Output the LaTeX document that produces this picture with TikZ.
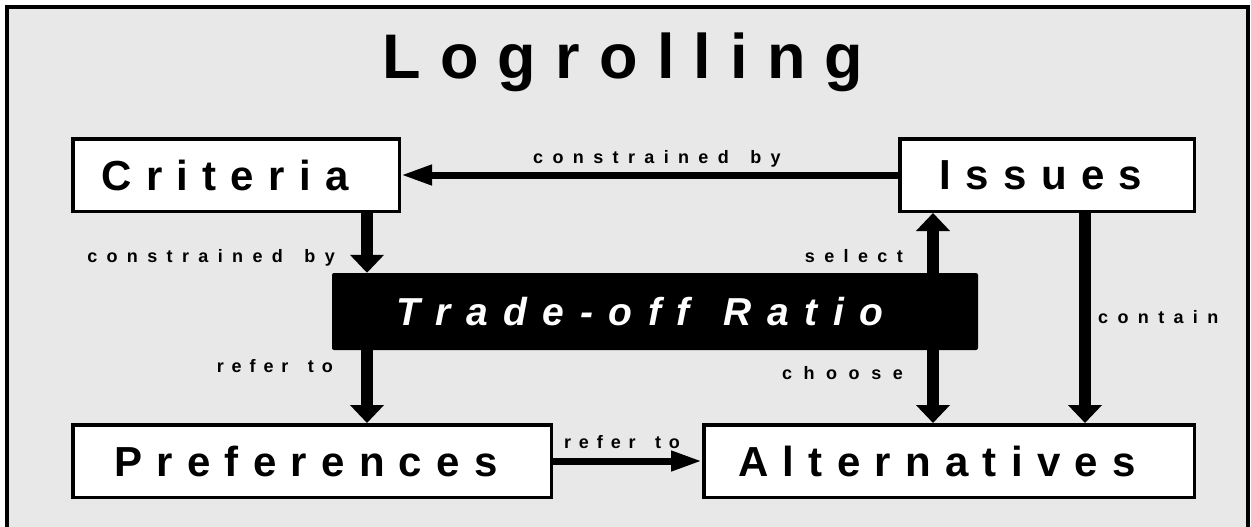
\documentclass[tikz,border=0pt]{standalone}
\usepackage{fontspec}
\usetikzlibrary{arrows.meta}
\setmainfont{Liberation Sans}
\newfontfamily\titlefont{Liberation Sans}[LetterSpace=30.5]
\newfontfamily\boxfont{Liberation Sans}[LetterSpace=34]
\newfontfamily\ratiofont{Liberation Sans}[LetterSpace=40, WordSpace=1.3]
\newfontfamily\labelfont{Liberation Sans}[LetterSpace=52, WordSpace=1.5]
\newfontfamily\referfont{Liberation Sans}[LetterSpace=44, WordSpace=1.5]
\definecolor{panel}{RGB}{232,232,232}
\begin{document}
\begin{tikzpicture}[x=1pt,y=-1pt,
  box/.style={draw=black, line width=3.5pt, fill=white, inner sep=0pt, minimum height=72.5pt,
    font=\boxfont\bfseries\fontsize{42}{50}\selectfont, execute at end node={\hspace*{#1}}},
  box/.default=14pt,
  ratiobox/.style={fill=black, rounded corners=2pt, inner sep=0pt, minimum width=646pt, minimum height=77pt,
    text=white, font=\ratiofont\bfseries\itshape\fontsize{39}{46}\selectfont,
    execute at end node={\hspace*{30pt}}},
  lab/.style={inner sep=0pt, font=\labelfont\bfseries\fontsize{18}{22}\selectfont},
  reflab/.style={inner sep=0pt, font=\referfont\bfseries\fontsize{18}{22}\selectfont},
  varrow/.style={line width=12pt, -{Triangle[width=33pt,length=18pt]}},
  harrow/.style={line width=7pt, -{Triangle[width=19pt,length=31pt]}}
]
\useasboundingbox (0,0) rectangle (1251,527);
\begin{scope}
  \clip (0,0) rectangle (1251,527);
  \draw[line width=4pt, fill=panel] (6.5,7.5) rectangle (1247.5,560);
\end{scope}

\node[inner sep=0pt, anchor=base, font=\titlefont\bfseries\fontsize{63}{70}\selectfont] (title) at (623,78) {Logrolling};

\node[box=22pt, minimum width=326.5pt] (crit) at (236,175) {Criteria};
\node[box=12pt, minimum width=294.5pt] (iss) at (1047,175) {Issues};
\node[ratiobox] (ratio) at (655,311.5) {Trade-off Ratio};
\node[box=12pt, minimum width=478.5pt] (pref) at (312,461) {Preferences};
\node[box=24pt, minimum width=490.5pt] (alt) at (949,461) {Alternatives};

\coordinate (cL) at (367,0);
\coordinate (cS) at (933,0);
\coordinate (cC) at (1085,0);

\draw[harrow] (iss.west) -- (crit.east);
\draw[varrow] (crit.south -| cL) -- (ratio.north -| cL);
\draw[varrow] (ratio.south -| cL) -- (pref.north -| cL);
\draw[varrow] (ratio.north -| cS) -- (iss.south -| cS);
\draw[varrow] (ratio.south -| cS) -- (alt.north -| cS);
\draw[varrow] (iss.south -| cC) -- (alt.north -| cC);
\draw[harrow] (pref.east) -- (alt.west);

\node[lab, anchor=base] (l1) at (657,163) {constrained by};
\node[lab, anchor=base east] (l2) at (335,262) {constrained by};
\node[reflab, anchor=base east] (l3) at (333,372) {refer to};
\node[lab, anchor=base east] (l4) at (903,262) {select};
\node[lab, anchor=base east, font=\labelfont\bfseries\fontsize{18}{22}\selectfont\addfontfeature{LetterSpace=64}] (l5) at (903,379) {choose};
\node[lab, anchor=base west] (l6) at (1098,323) {contain};
\node[reflab, anchor=base] (l7) at (622,448) {refer to};
\end{tikzpicture}
\end{document}
